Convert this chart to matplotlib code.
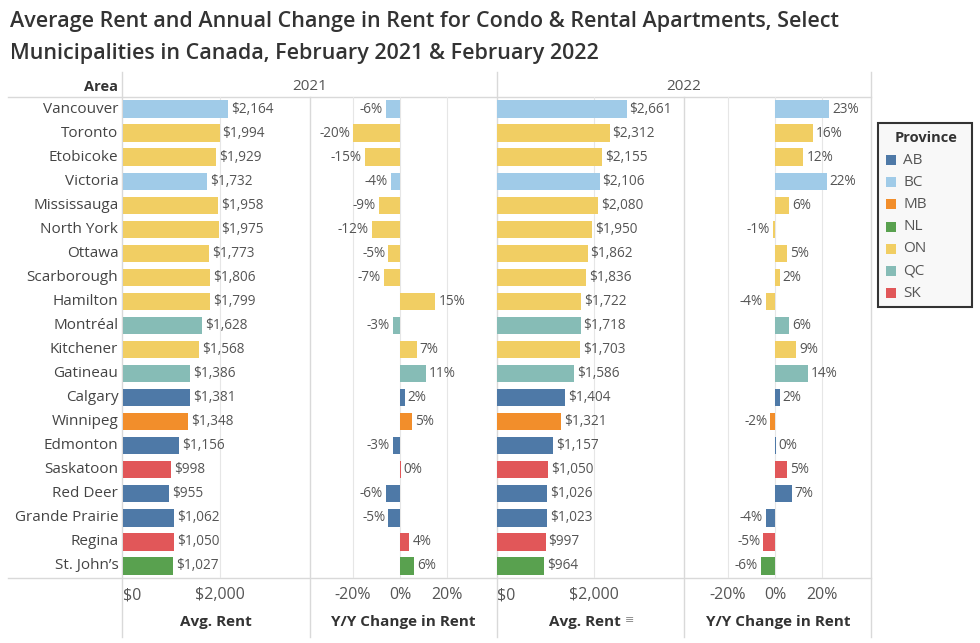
import numpy as np
import matplotlib.pyplot as plt
from matplotlib.patches import Rectangle

plt.rcParams['font.family'] = ['Open Sans', 'DejaVu Sans']

# Data
areas = ["Vancouver", "Toronto", "Etobicoke", "Victoria", "Mississauga", "North York",
         "Ottawa", "Scarborough", "Hamilton", "Montréal", "Kitchener", "Gatineau",
         "Calgary", "Winnipeg", "Edmonton", "Saskatoon", "Red Deer", "Grande Prairie",
         "Regina", "St. John’s"]
province = ["BC", "ON", "ON", "BC", "ON", "ON", "ON", "ON", "ON", "QC", "ON", "QC",
            "AB", "MB", "AB", "SK", "AB", "AB", "SK", "NL"]
rent_2021 = [2164, 1994, 1929, 1732, 1958, 1975, 1773, 1806, 1799, 1628, 1568, 1386,
             1381, 1348, 1156, 998, 955, 1062, 1050, 1027]
yoy_2021 = [-6, -20, -15, -4, -9, -12, -5, -7, 15, -3, 7, 11, 2, 5, -3, 0.3, -6, -5, 4, 6]
rent_2022 = [2661, 2312, 2155, 2106, 2080, 1950, 1862, 1836, 1722, 1718, 1703, 1586,
             1404, 1321, 1157, 1050, 1026, 1023, 997, 964]
yoy_2022 = [23, 16, 12, 22, 6, -1, 5, 2, -4, 6, 9, 14, 2, -2, 0.2, 5, 7, -4, -5, -6]

prov_names = ["AB", "BC", "MB", "NL", "ON", "QC", "SK"]
prov_colors = {"AB": "#4e79a7", "BC": "#a0cbe8", "MB": "#f28e2b", "NL": "#59a14f",
               "ON": "#f1ce63", "QC": "#86bcb6", "SK": "#e15759"}

W, H = 980, 643
fig = plt.figure(figsize=(W / 100, H / 100), dpi=100)

# background axes in pixel coordinates for frame lines, headers and legend
bg = fig.add_axes([0, 0, 1, 1])
bg.set_xlim(0, W)
bg.set_ylim(H, 0)
bg.axis("off")

txt = "#333333"
lab_c = "#555555"
grid_c = "#e6e6e6"
line_c = "#d9d9d9"

bg.text(10, 22, "Average Rent and Annual Change in Rent for Condo & Rental Apartments, Select",
        fontsize=15.5, color=txt, va="center", ha="left", fontweight="semibold")
bg.text(10, 53, "Municipalities in Canada, February 2021 & February 2022",
        fontsize=15.5, color=txt, va="center", ha="left", fontweight="semibold")

top, bottom = 97, 578
panels = [(123, 309), (310, 496), (497, 684), (685, 871)]

# frame lines
bg.plot([8, 871], [top, top], color=line_c, lw=1)
bg.plot([8, 871], [bottom, bottom], color=line_c, lw=1)
for x in [122, 497, 871]:
    bg.plot([x, x], [72, 637], color=line_c, lw=1)
for x in [310, 684]:
    bg.plot([x, x], [top, 637], color=line_c, lw=1)

bg.text(118, 87, "Area", fontsize=10.5, fontweight="bold", color=txt, ha="right", va="center")
bg.text(310, 87, "2021", fontsize=11, color=lab_c, ha="center", va="center")
bg.text(684, 87, "2022", fontsize=11, color=lab_c, ha="center", va="center")

y = np.arange(len(areas))
colors = [prov_colors[p] for p in province]


def make_axes(x0, x1):
    ax = fig.add_axes([x0 / W, 1 - bottom / H, (x1 - x0) / W, (bottom - top) / H])
    ax.set_ylim(len(areas) - 0.5, -0.5)
    ax.patch.set_alpha(0)
    for s in ax.spines.values():
        s.set_visible(False)
    ax.set_yticks([])
    ax.tick_params(axis="x", length=0, labelbottom=False)
    return ax


def rent_panel(ax, vals):
    ax.set_xlim(0, 3840)
    ax.axvline(2000, color=grid_c, lw=0.8, zorder=0)
    ax.barh(y, vals, height=0.72, color=colors, zorder=2)
    for yi, v in zip(y, vals):
        ax.text(v + 60, yi, f"${v:,}", fontsize=9.8, color=lab_c, va="center", ha="left")
    tr = ax.get_xaxis_transform()
    ax.text(0, -0.036, "$0", transform=tr, fontsize=11.5, color=lab_c, ha="left", va="center")
    ax.text(2000, -0.036, "$2,000", transform=tr, fontsize=11.5, color=lab_c, ha="center", va="center")


def yoy_panel(ax, vals):
    ax.set_xlim(-38.3, 40.8)
    for t in [-20, 0, 20]:
        ax.axvline(t, color=grid_c, lw=0.8, zorder=0)
    ax.barh(y, vals, height=0.72, color=colors, zorder=2)
    for yi, v in zip(y, vals):
        lab = f"{round(v):d}%"
        if v < 0:
            ax.text(v - 1.3, yi, lab, fontsize=9.8, color=lab_c, va="center", ha="right")
        else:
            ax.text(v + 1.3, yi, lab, fontsize=9.8, color=lab_c, va="center", ha="left")
    tr = ax.get_xaxis_transform()
    for t in [-20, 0, 20]:
        ax.text(t, -0.036, f"{t}%", transform=tr, fontsize=11.5, color=lab_c,
                ha="center", va="center")


ax1 = make_axes(*panels[0])
rent_panel(ax1, rent_2021)
ax2 = make_axes(*panels[1])
yoy_panel(ax2, yoy_2021)
ax3 = make_axes(*panels[2])
rent_panel(ax3, rent_2022)
ax4 = make_axes(*panels[3])
yoy_panel(ax4, yoy_2022)

# area labels
for yi, name in zip(y, areas):
    ax1.text(-0.025, yi, name, transform=ax1.get_yaxis_transform(), fontsize=11,
             color="#444444", ha="right", va="center")

# axis titles
bg.text(216, 622, "Avg. Rent", fontsize=11, fontweight="bold", color=txt, ha="center", va="center")
bg.text(403, 622, "Y/Y Change in Rent", fontsize=11, fontweight="bold", color=txt, ha="center", va="center")
bg.text(585, 622, "Avg. Rent", fontsize=11, fontweight="bold", color=txt, ha="center", va="center")
bg.text(630, 620, "≡", fontsize=8, color="#888888", ha="center", va="center")
bg.text(778, 622, "Y/Y Change in Rent", fontsize=11, fontweight="bold", color=txt, ha="center", va="center")

# legend box
bg.add_patch(Rectangle((878, 123), 94, 184, facecolor="#f8f8f8", edgecolor="#333333", lw=1.5))
bg.text(926, 138, "Province", fontsize=10.5, fontweight="bold", color=txt, ha="center", va="center")
for i, p in enumerate(prov_names):
    yc = 160 + i * 22.2
    bg.add_patch(Rectangle((886, yc - 5), 10, 10, facecolor=prov_colors[p], edgecolor="none"))
    bg.text(903, yc, p, fontsize=11, color=lab_c, ha="left", va="center")

fig.savefig("out.png", dpi=100)
